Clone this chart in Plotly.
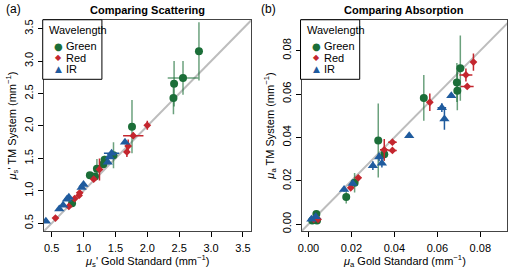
import plotly.graph_objects as go

# Panel (a): reduced scattering, mm^-1
sca_green_x = [2.81, 2.56, 2.42, 2.41, 1.76, 1.47, 1.33, 1.31, 1.21, 1.10, 1.18, 0.82]
sca_green_y = [3.15, 2.74, 2.65, 2.43, 1.99, 1.55, 1.48, 1.41, 1.34, 1.24, 1.22, 0.81]
sca_green_ex = [0, 0.24, 0, 0, 0, 0, 0, 0, 0, 0, 0, 0]
sca_green_ey = [0.45, 0.26, 0.35, 0.25, 0.41, 0.2, 0.06, 0.06, 0.15, 0.04, 0.04, 0.03]

sca_red_x = [2.00, 1.78, 1.70, 1.68, 1.25, 1.16, 0.94, 0.93, 0.86, 0.77, 0.56]
sca_red_y = [2.01, 1.85, 1.69, 1.60, 1.33, 1.18, 0.97, 0.93, 0.88, 0.76, 0.58]
sca_red_ex = [0.03, 0.16, 0, 0, 0, 0.03, 0, 0, 0, 0, 0.02]
sca_red_ey = [0.07, 0.05, 0.1, 0.08, 0.17, 0.04, 0.04, 0.03, 0.03, 0.03, 0.02]

sca_ir_x = [1.65, 1.44, 1.41, 1.38, 1.00, 0.97, 0.77, 0.74, 0.68, 0.62, 0.41]
sca_ir_y = [1.75, 1.58, 1.52, 1.44, 1.10, 1.05, 0.90, 0.87, 0.78, 0.72, 0.53]
sca_ir_ex = [0, 0.12, 0, 0, 0, 0, 0, 0, 0, 0, 0]
sca_ir_ey = [0.03, 0.03, 0.03, 0.03, 0.03, 0.02, 0.02, 0.02, 0.02, 0.02, 0.02]

# Panel (b): absorption, mm^-1
abs_green_x = [0.0707, 0.0691, 0.0693, 0.0537, 0.0325, 0.0353, 0.0215, 0.0176, 0.0037, 0.0018, 0.0040]
abs_green_y = [0.0719, 0.0653, 0.0615, 0.0582, 0.0386, 0.0323, 0.0191, 0.0126, 0.0047, 0.0017, 0.0017]
abs_green_ex = [0, 0, 0, 0, 0, 0, 0, 0, 0, 0, 0]
abs_green_ey = [0.015, 0.009, 0.009, 0.0105, 0.017, 0.003, 0.0045, 0.003, 0.001, 0.0008, 0.0008]

abs_red_x = [0.0768, 0.0733, 0.0739, 0.0565, 0.0391, 0.0391, 0.0353, 0.0232, 0.0197, 0.0025, 0.0045]
abs_red_y = [0.0747, 0.0688, 0.0635, 0.0562, 0.0378, 0.0340, 0.0343, 0.0214, 0.0168, 0.0023, 0.0023]
abs_red_ex = [0.001, 0.003, 0.003, 0, 0.002, 0.002, 0.002, 0, 0, 0.001, 0.001]
abs_red_ey = [0.004, 0.003, 0.001, 0.004, 0.001, 0.001, 0.005, 0.001, 0.001, 0.0005, 0.0005]

abs_ir_x = [0.0665, 0.0621, 0.0633, 0.0469, 0.0329, 0.0342, 0.0300, 0.0206, 0.0166, 0.0034, 0.0014]
abs_ir_y = [0.0592, 0.0537, 0.0485, 0.0408, 0.0310, 0.0281, 0.0270, 0.0188, 0.0160, 0.0035, 0.0023]
abs_ir_ex = [0, 0.002, 0.001, 0, 0, 0, 0.001, 0, 0, 0, 0]
abs_ir_ey = [0.001, 0.002, 0.005, 0.001, 0.002, 0.002, 0.002, 0.001, 0.001, 0.0005, 0.0005]

sca_ticks = [0.5, 1.0, 1.5, 2.0, 2.5, 3.0, 3.5]
sca_ticktext = ["0.5", "1.0", "1.5", "2.0", "2.5", "3.0", "3.5"]
abs_ticks = [0.00, 0.02, 0.04, 0.06, 0.08]
abs_ticktext = ["0.00", "0.02", "0.04", "0.06", "0.08"]

legend_names = ["Green", "Red", "IR"]

FONT = "Liberation Sans, Arial, sans-serif"
GREEN = "#1b6e38"
RED = "#c4262e"
BLUE = "#1f5b9e"

fig = go.Figure()

# 1:1 reference lines
fig.add_trace(go.Scatter(x=[0, 4], y=[0, 4], mode="lines",
                         line=dict(color="#bdbdbd", width=2),
                         showlegend=False, hoverinfo="skip",
                         xaxis="x", yaxis="y"))
fig.add_trace(go.Scatter(x=[-0.01, 0.1], y=[-0.01, 0.1], mode="lines",
                         line=dict(color="#bdbdbd", width=2),
                         showlegend=False, hoverinfo="skip",
                         xaxis="x2", yaxis="y2"))

series = [
    (GREEN, "rgba(27,110,56,0.65)", "circle", 8, "●", 10),
    (RED, RED, "diamond", 6, "◆", 8),
    (BLUE, BLUE, "triangle-up", 9, "▲", 9),
]
panel_a = [
    (sca_green_x, sca_green_y, sca_green_ex, sca_green_ey),
    (sca_red_x, sca_red_y, sca_red_ex, sca_red_ey),
    (sca_ir_x, sca_ir_y, sca_ir_ex, sca_ir_ey),
]
panel_b = [
    (abs_green_x, abs_green_y, abs_green_ex, abs_green_ey),
    (abs_red_x, abs_red_y, abs_red_ex, abs_red_ey),
    (abs_ir_x, abs_ir_y, abs_ir_ex, abs_ir_ey),
]

for axx, axy, panel in [("x", "y", panel_a), ("x2", "y2", panel_b)]:
    for name, (col, ecol, sym, size, _, _), (x, y, ex, ey) in zip(legend_names, series, panel):
        fig.add_trace(go.Scatter(
            x=x, y=y, mode="markers", name=name, showlegend=False,
            marker=dict(color=col, symbol=sym, size=size, line=dict(width=0)),
            error_x=dict(type="data", array=ex, color=ecol, thickness=1.5, width=0),
            error_y=dict(type="data", array=ey, color=ecol, thickness=1.5, width=0),
            xaxis=axx, yaxis=axy))

tickfont = dict(family=FONT, size=11, color="black")
textfont = dict(family=FONT, size=11, color="black")
ax_common = dict(showgrid=False, zeroline=False, showline=True, mirror=True,
                 linecolor="#444444", linewidth=1, ticks="outside", ticklen=5,
                 tickcolor="black", tickfont=tickfont)

annotations = [
    dict(text="<b>Comparing Scattering</b>", x=0.283, y=1.0, yshift=-2),
    dict(text="<b>Comparing Absorption</b>", x=0.791, y=1.0, yshift=-2),
]
annotations = [dict(a, xref="paper", yref="paper", xanchor="center", yanchor="top",
                    showarrow=False, font=textfont) for a in annotations]
annotations += [
    dict(text="(a)", x=0.0, y=1.0, xref="paper", yref="paper", xanchor="left",
         yanchor="top", showarrow=False, font=dict(family=FONT, size=12, color="black")),
    dict(text="(b)", x=0.503, y=1.0, xref="paper", yref="paper", xanchor="left",
         yanchor="top", showarrow=False, font=dict(family=FONT, size=12, color="black")),
    dict(text="<i>μ</i><sub>s</sub>' Gold Standard (mm<sup>−1</sup>)", x=0.283, y=0.022,
         xref="paper", yref="paper", xanchor="center", yanchor="middle",
         showarrow=False, font=textfont),
    dict(text="<i>μ</i><sub>a</sub> Gold Standard (mm<sup>−1</sup>)", x=0.791, y=0.022,
         xref="paper", yref="paper", xanchor="center", yanchor="middle",
         showarrow=False, font=textfont),
]

# hand-drawn legends (compact, R-style)
shapes = []
for left in [0.0765, 0.586]:
    shapes.append(dict(type="rect", xref="paper", yref="paper",
                       x0=left, x1=left + 0.117, y0=0.703, y1=0.926,
                       line=dict(color="black", width=1), fillcolor="white", layer="above"))
    annotations.append(dict(text="Wavelength", x=left + 0.008, y=1 - 30 / 269,
                            xref="paper", yref="paper", xanchor="left", yanchor="middle",
                            showarrow=False, font=textfont))
    for i, (name, (col, _, _, _, glyph, gsize)) in enumerate(zip(legend_names, series)):
        ypos = 1 - (46.5 + 11.5 * i) / 269
        annotations.append(dict(text=glyph, x=left + 0.031, y=ypos, xref="paper", yref="paper",
                                xanchor="center", yanchor="middle", showarrow=False,
                                font=dict(family="DejaVu Sans", size=gsize, color=col)))
        annotations.append(dict(text=name, x=left + 0.043, y=ypos, xref="paper", yref="paper",
                                xanchor="left", yanchor="middle", showarrow=False,
                                font=textfont))

fig.update_layout(
    width=510, height=269,
    margin=dict(l=0, r=0, t=0, b=0),
    plot_bgcolor="white", paper_bgcolor="white",
    showlegend=False,
    xaxis=dict(ax_common, domain=[0.0784, 0.488], range=[0.375, 3.625],
               tickvals=sca_ticks, ticktext=sca_ticktext, anchor="y",
               ticklabelstandoff=2),
    yaxis=dict(ax_common, domain=[0.134, 0.926], range=[0.378, 3.637],
               tickvals=sca_ticks, ticktext=sca_ticktext, tickangle=-90, anchor="x",
               title=dict(text="<i>μ</i><sub>s</sub>' TM System (mm<sup>−1</sup>)",
                          font=textfont, standoff=4)),
    xaxis2=dict(ax_common, domain=[0.588, 0.994], range=[-0.0032, 0.0924],
                tickvals=abs_ticks, ticktext=abs_ticktext, anchor="y2",
                ticklabelstandoff=2),
    yaxis2=dict(ax_common, domain=[0.134, 0.926], range=[-0.0032, 0.0942],
                tickvals=abs_ticks, ticktext=abs_ticktext, tickangle=-90, anchor="x2",
                title=dict(text="<i>μ</i><sub>a</sub> TM System (mm<sup>−1</sup>)",
                           font=textfont, standoff=4)),
    shapes=shapes,
    annotations=annotations,
)

# drop the default page margin so the 510x269 figure fills the window
fig.write_html("out.html", config={"displayModeBar": False},
               post_script="document.body.style.margin='0';")
